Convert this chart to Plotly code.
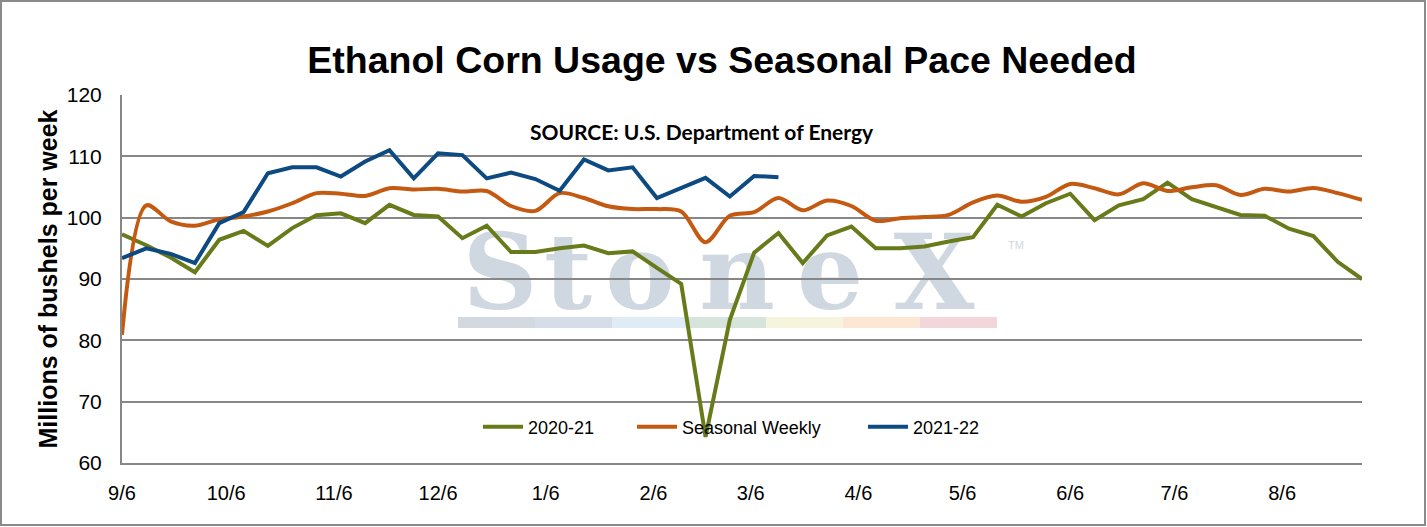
import pandas as pd
import plotly.graph_objects as go

# Weekly x positions (week ending dates of the marketing year)
weeks = pd.date_range("2020-09-06", periods=52, freq="7D")

# Millions of bushels per week
usage_2020_21 = [
    97.3, 95.5, 93.5, 91.1, 96.4, 97.85, 95.4, 98.3, 100.4, 100.7, 99.1, 102.1,
    100.45, 100.2, 96.65, 98.7, 94.4, 94.4, 95.0, 95.45, 94.2, 94.5, 91.8, 89.2,
    64.25, 83.35, 94.3, 97.5, 92.6, 97.1, 98.55, 95.0, 95.0, 95.3, 96.1, 96.8,
    102.1, 100.2, 102.35, 103.9, 99.6, 102.0, 103.0, 105.7, 103.0, 101.65,
    100.45, 100.3, 98.2, 97.0, 92.8, 90.0,
]
seasonal_weekly = [
    80.9, 102.0, 99.4, 98.7, 99.75, 100.2, 101.0, 102.35, 104.0, 103.9, 103.55,
    104.8, 104.6, 104.7, 104.25, 104.35, 101.9, 101.1, 104.0, 103.2, 101.85,
    101.4, 101.4, 101.0, 96.0, 100.3, 100.9, 103.2, 101.2, 102.8, 101.9, 99.5,
    99.9, 100.1, 100.45, 102.5, 103.6, 102.6, 103.4, 105.5, 104.8, 103.8, 105.6,
    104.35, 104.95, 105.3, 103.7, 104.7, 104.25, 104.85, 104.0, 102.9,
]
usage_2021_22 = [
    93.4, 95.0, 94.1, 92.6, 99.1, 100.9, 107.25, 108.2, 108.2, 106.7, 109.15,
    111.0, 106.4, 110.5, 110.2, 106.4, 107.35, 106.3, 104.4, 109.5, 107.7, 108.2,
    103.2, 104.8, 106.5, 103.45, 106.8, 106.6,
]

GREEN = "#687B1B"
ORANGE = "#C45A11"
BLUE = "#0D4A82"
GRID = "#878787"
WM = "#CFD7E0"

# Page geometry in pixels (plot area 122..1362 x 95..463)
W, H = 1427, 527
L, R, T, B = 122, 65, 95, 64
PW, PH = W - L - R, H - T - B


def dx(px):
    return (px - L) / PW


def dy(py):
    return (H - B - py) / PH


fig = go.Figure()

fig.add_trace(
    go.Scatter(
        x=weeks,
        y=usage_2020_21,
        name="2020-21",
        mode="lines",
        line=dict(color=GREEN, width=4),
        legend="legend",
    )
)
fig.add_trace(
    go.Scatter(
        x=weeks,
        y=seasonal_weekly,
        name="Seasonal Weekly",
        mode="lines",
        line=dict(color=ORANGE, width=4, shape="spline", smoothing=0.9),
        legend="legend2",
    )
)
fig.add_trace(
    go.Scatter(
        x=weeks[: len(usage_2021_22)],
        y=usage_2021_22,
        name="2021-22",
        mode="lines",
        line=dict(color=BLUE, width=4),
        legend="legend3",
    )
)

shapes = []

# StoneX watermark, drawn under the grid and the lines
letters = [("S", 500), ("t", 568), ("o", 640), ("n", 737), ("e", 830), ("X", 934)]
for ch, cx in letters:
    shapes.append(
        dict(
            type="rect",
            xref="x domain",
            yref="y domain",
            x0=dx(cx - 40),
            x1=dx(cx + 40),
            y0=dy(299),
            y1=dy(233),
            line=dict(width=0),
            fillcolor="rgba(0,0,0,0)",
            layer="below",
            label=dict(
                text=ch,
                textposition="middle center",
                font=dict(family="DejaVu Serif", size=104, color=WM, weight="bold"),
            ),
        )
    )
shapes.append(
    dict(
        type="rect",
        xref="x domain",
        yref="y domain",
        x0=dx(1000),
        x1=dx(1032),
        y0=dy(250),
        y1=dy(238),
        line=dict(width=0),
        fillcolor="rgba(0,0,0,0)",
        layer="below",
        label=dict(
            text="TM",
            textposition="middle center",
            font=dict(family="Liberation Sans", size=11, color=WM),
        ),
    )
)

bar_colors = ["#D2D9E1", "#D5DEE8", "#DFEBF5", "#D6E4DC", "#F7F4DD", "#FBE7D3", "#F2D6D9"]
for k, c in enumerate(bar_colors):
    shapes.append(
        dict(
            type="rect",
            xref="x domain",
            yref="y domain",
            x0=dx(458 + 77 * k),
            x1=dx(458 + 77 * (k + 1)),
            y0=dy(328),
            y1=dy(317),
            line=dict(width=0),
            fillcolor=c,
            layer="below",
        )
    )

# outer chart border
shapes.append(
    dict(
        type="rect",
        xref="paper",
        yref="paper",
        x0=dx(1),
        x1=dx(W - 2),
        y0=dy(H - 2),
        y1=dy(1),
        line=dict(color="#8A8A8A", width=2),
        fillcolor="rgba(0,0,0,0)",
    )
)


def legend_at(px):
    return dict(
        orientation="h",
        x=dx(px),
        xanchor="left",
        y=dy(427),
        yanchor="middle",
        bgcolor="rgba(0,0,0,0)",
        font=dict(size=18, color="black", family="Liberation Sans, Arial"),
        itemwidth=40,
    )


fig.update_layout(
    width=W,
    height=H,
    margin=dict(l=L, r=R, t=T, b=B, pad=0),
    paper_bgcolor="white",
    plot_bgcolor="white",
    font=dict(family="Liberation Sans, Arial", color="black"),
    title=dict(
        text="<b>Ethanol Corn Usage vs Seasonal Pace Needed</b>",
        x=722 / W,
        xanchor="center",
        y=1 - 60 / H,
        yanchor="middle",
        font=dict(size=37.5, family="Liberation Sans, Arial", color="black"),
    ),
    showlegend=True,
    legend=legend_at(478),
    legend2=legend_at(632),
    legend3=legend_at(863),
    shapes=shapes,
    annotations=[
        dict(
            text="<b>SOURCE: U.S. Department of Energy</b>",
            xref="paper",
            yref="paper",
            x=dx(702),
            y=dy(132),
            xanchor="center",
            yanchor="middle",
            showarrow=False,
            font=dict(family="Lato, Open Sans", size=21, color="black"),
        )
    ],
)

fig.update_xaxes(
    type="date",
    range=[weeks[0], weeks[-1]],
    tick0="2020-09-06",
    dtick="M1",
    tickformat="%-m/%-d",
    showgrid=False,
    zeroline=False,
    showline=True,
    linecolor=GRID,
    linewidth=2,
    ticks="",
    ticklabelstandoff=11,
    tickfont=dict(size=20, family="Liberation Sans, Arial", color="black"),
)
fig.update_yaxes(
    range=[60, 120],
    dtick=10,
    showgrid=True,
    gridcolor=GRID,
    gridwidth=2,
    zeroline=False,
    showline=True,
    linecolor=GRID,
    linewidth=2,
    ticks="",
    ticklabelstandoff=14,
    tickfont=dict(size=21, family="Liberation Sans, Arial", color="black"),
    title=dict(
        text="<b>Millions of bushels per week</b>",
        font=dict(size=25, family="Liberation Sans, Arial", color="black"),
        standoff=2,
    ),
)

# drop the default page margin so the chart sits at the window origin
fig.write_html(
    "out.html",
    config={"displayModeBar": False},
    post_script="document.body.style.margin='0';",
)
